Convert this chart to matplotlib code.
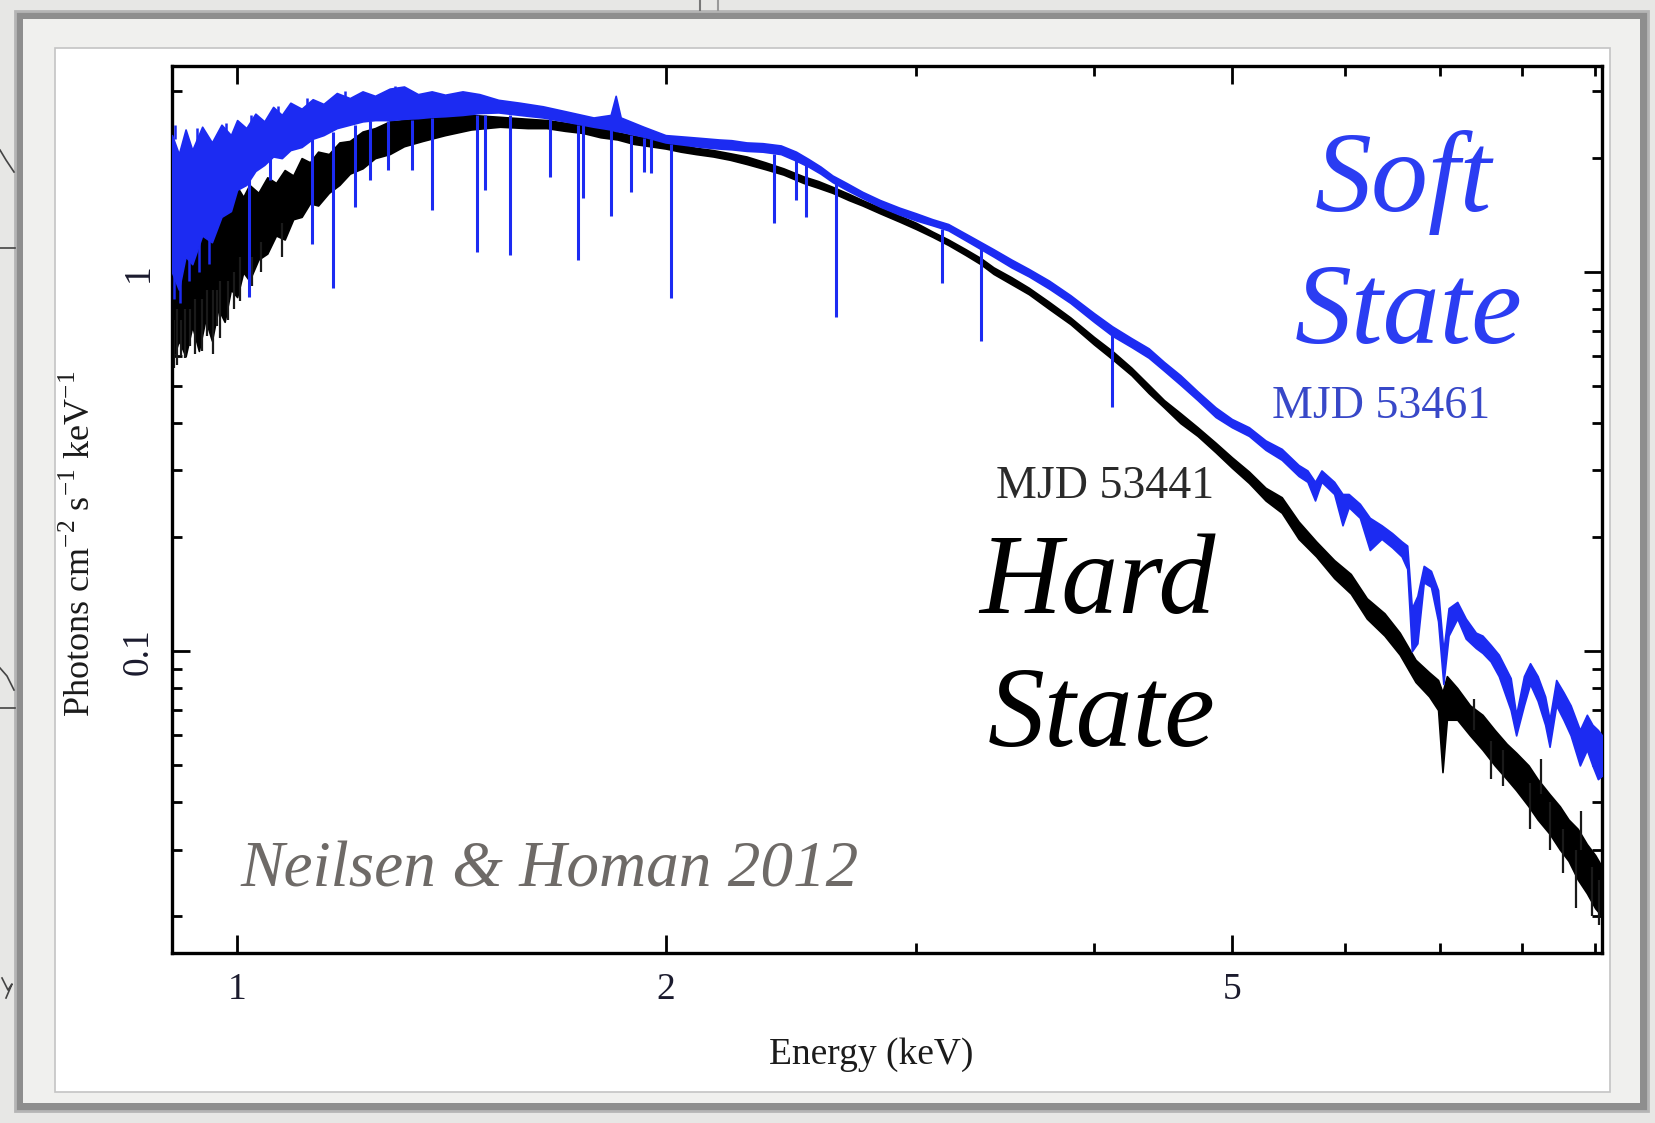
import matplotlib.pyplot as plt
from matplotlib.patches import Rectangle
from matplotlib.lines import Line2D

W, H = 1655, 1123

# Hard state (MJD 53441): noise envelope of the spectrum, keV vs photons/cm2/s/keV
hard_E = [0.900, 0.910, 0.920, 0.930, 0.940, 0.950, 0.960, 0.970, 0.980, 0.990,
          1.000, 1.010, 1.020, 1.035, 1.050, 1.065, 1.080, 1.095, 1.110, 1.125,
          1.140, 1.160, 1.180, 1.200, 1.225, 1.250, 1.280, 1.310, 1.350, 1.400,
          1.460, 1.530, 1.600, 1.650, 1.700, 1.750, 1.800, 1.850, 1.900, 1.950,
          2.000, 2.050, 2.100, 2.160, 2.220, 2.280, 2.350, 2.420, 2.500, 2.560,
          2.620, 2.690, 2.750, 2.830, 2.920, 3.000, 3.080, 3.160, 3.250, 3.330,
          3.400, 3.500, 3.600, 3.720, 3.850, 4.000, 4.120, 4.250, 4.370, 4.480,
          4.600, 4.730, 4.870, 5.000, 5.140, 5.280, 5.420, 5.570, 5.730, 5.900,
          6.060, 6.220, 6.400, 6.560, 6.730, 6.880, 6.980, 7.030, 7.080, 7.200,
          7.350, 7.500, 7.650, 7.800, 7.920, 8.080, 8.200, 8.360, 8.500, 8.620,
          8.750, 8.880, 9.000, 9.100]
hard_hi = [1.40, 1.25, 1.50, 1.30, 1.55, 1.38, 1.60, 1.45, 1.62, 1.50,
           1.68, 1.58, 1.70, 1.62, 1.78, 1.72, 1.86, 1.80, 2.00, 1.95,
           2.08, 2.05, 2.20, 2.22, 2.35, 2.40, 2.50, 2.52, 2.56, 2.60,
           2.60, 2.57, 2.54, 2.52, 2.48, 2.44, 2.40, 2.34, 2.29, 2.25,
           2.20, 2.17, 2.13, 2.10, 2.06, 2.02, 1.95, 1.88, 1.79, 1.74,
           1.68, 1.61, 1.55, 1.48, 1.41, 1.35, 1.28, 1.22, 1.15, 1.09,
           1.03, 0.97, 0.91, 0.835, 0.76, 0.675, 0.62, 0.56, 0.505, 0.46,
           0.425, 0.39, 0.355, 0.325, 0.298, 0.270, 0.255, 0.220, 0.195, 0.174,
           0.160, 0.138, 0.126, 0.112, 0.095, 0.088, 0.084, 0.078, 0.086, 0.080,
           0.072, 0.068, 0.062, 0.057, 0.054, 0.050, 0.046, 0.042, 0.039, 0.036,
           0.034, 0.031, 0.029, 0.027]
hard_lo = [0.58, 0.66, 0.60, 0.72, 0.62, 0.75, 0.66, 0.80, 0.74, 0.90,
           0.86, 1.00, 0.95, 1.08, 1.12, 1.25, 1.22, 1.38, 1.40, 1.52,
           1.50, 1.62, 1.70, 1.82, 1.88, 2.00, 2.05, 2.15, 2.22, 2.30,
           2.38, 2.42, 2.40, 2.40, 2.36, 2.33, 2.27, 2.24, 2.18, 2.15,
           2.12, 2.08, 2.05, 2.02, 1.98, 1.93, 1.87, 1.81, 1.72, 1.67,
           1.62, 1.55, 1.50, 1.43, 1.36, 1.30, 1.24, 1.18, 1.11, 1.05,
           0.99, 0.93, 0.875, 0.80, 0.73, 0.645, 0.59, 0.535, 0.48, 0.44,
           0.40, 0.37, 0.335, 0.305, 0.278, 0.250, 0.232, 0.198, 0.178, 0.156,
           0.142, 0.122, 0.110, 0.098, 0.083, 0.076, 0.070, 0.048, 0.066, 0.066,
           0.060, 0.055, 0.050, 0.046, 0.043, 0.039, 0.036, 0.033, 0.030, 0.028,
           0.025, 0.023, 0.021, 0.020]
# single-channel noise spikes of the hard spectrum
hard_spike_E = [0.903, 0.907, 0.913, 0.919, 0.926, 0.934, 0.944, 0.952, 0.962, 0.968,
                0.973, 0.985, 0.995, 1.005, 1.025, 1.040, 1.075,
                7.40, 7.60, 7.75, 8.10, 8.25, 8.36, 8.55, 8.72, 8.80, 8.95, 9.05]
hard_spike_bottom = [0.56, 0.57, 0.60, 0.595, 0.64, 0.61, 0.62, 0.68, 0.61, 0.72,
                     0.67, 0.75, 0.80, 0.84, 0.92, 1.00, 1.10,
                     0.062, 0.046, 0.044, 0.034, 0.042, 0.030, 0.026, 0.021, 0.030, 0.020, 0.019]
hard_spike_top = [0.75, 0.80, 0.75, 0.80, 0.80, 0.85, 0.85, 0.90, 0.90, 0.90,
                  0.95, 0.95, 1.00, 1.10, 1.10, 1.20, 1.35,
                  0.075, 0.058, 0.055, 0.045, 0.052, 0.040, 0.034, 0.030, 0.038, 0.027, 0.025]

# Soft state (MJD 53461)
soft_E = [0.900, 0.910, 0.920, 0.930, 0.945, 0.960, 0.975, 0.990, 1.000, 1.015,
          1.030, 1.045, 1.060, 1.075, 1.090, 1.110, 1.130, 1.150, 1.175, 1.200,
          1.225, 1.250, 1.280, 1.310, 1.340, 1.370, 1.400, 1.440, 1.480, 1.526,
          1.580, 1.640, 1.700, 1.780, 1.830, 1.845, 1.860, 1.930, 2.000, 2.060,
          2.120, 2.180, 2.225, 2.280, 2.340, 2.410, 2.470, 2.520, 2.570, 2.620,
          2.680, 2.750, 2.830, 2.920, 3.000, 3.080, 3.160, 3.280, 3.400, 3.500,
          3.600, 3.720, 3.850, 4.000, 4.120, 4.250, 4.370, 4.480, 4.600, 4.730,
          4.870, 5.000, 5.140, 5.280, 5.420, 5.570, 5.650, 5.720, 5.780, 5.900,
          5.980, 6.040, 6.150, 6.250, 6.370, 6.480, 6.580, 6.640, 6.690, 6.750,
          6.820, 6.900, 6.980, 7.040, 7.100, 7.200, 7.300, 7.420, 7.500, 7.600,
          7.700, 7.850, 7.920, 8.020, 8.100, 8.200, 8.300, 8.360, 8.450, 8.550,
          8.650, 8.780, 8.880, 8.960, 9.040, 9.100]
soft_hi = [2.30, 2.05, 2.38, 2.10, 2.42, 2.20, 2.45, 2.30, 2.52, 2.40,
           2.62, 2.50, 2.73, 2.60, 2.80, 2.70, 2.86, 2.78, 2.97, 2.88,
           3.00, 2.92, 3.05, 3.09, 2.95, 3.00, 2.94, 3.00, 2.95, 2.85,
           2.80, 2.74, 2.66, 2.56, 2.60, 2.92, 2.56, 2.42, 2.30, 2.28,
           2.26, 2.24, 2.23, 2.20, 2.19, 2.16, 2.08, 1.99, 1.90, 1.80,
           1.72, 1.63, 1.55, 1.48, 1.43, 1.38, 1.34, 1.24, 1.15, 1.08,
           1.02, 0.95, 0.87, 0.78, 0.72, 0.67, 0.63, 0.58, 0.535, 0.485,
           0.44, 0.41, 0.39, 0.36, 0.342, 0.31, 0.30, 0.28, 0.30, 0.28,
           0.26, 0.26, 0.245, 0.225, 0.215, 0.205, 0.195, 0.19, 0.13, 0.14,
           0.168, 0.163, 0.145, 0.10, 0.13, 0.135, 0.122, 0.112, 0.110, 0.104,
           0.098, 0.085, 0.068, 0.086, 0.093, 0.086, 0.076, 0.066, 0.084, 0.078,
           0.072, 0.062, 0.068, 0.064, 0.062, 0.060]
soft_lo = [1.00, 0.90, 1.10, 1.05, 1.25, 1.20, 1.40, 1.45, 1.65, 1.70,
           1.85, 1.92, 2.02, 2.00, 2.10, 2.14, 2.25, 2.30, 2.40, 2.45,
           2.50, 2.52, 2.52, 2.54, 2.55, 2.57, 2.58, 2.60, 2.63, 2.64,
           2.60, 2.56, 2.50, 2.42, 2.38, 2.36, 2.35, 2.28, 2.20, 2.17,
           2.14, 2.12, 2.11, 2.09, 2.08, 2.05, 1.97, 1.90, 1.82, 1.73,
           1.65, 1.57, 1.49, 1.42, 1.37, 1.33, 1.29, 1.19, 1.10, 1.03,
           0.975, 0.905, 0.83, 0.74, 0.68, 0.635, 0.595, 0.55, 0.505, 0.46,
           0.415, 0.39, 0.37, 0.34, 0.32, 0.29, 0.28, 0.25, 0.28, 0.26,
           0.215, 0.24, 0.225, 0.185, 0.198, 0.188, 0.178, 0.165, 0.10, 0.105,
           0.152, 0.148, 0.12, 0.082, 0.11, 0.122, 0.108, 0.102, 0.099, 0.094,
           0.086, 0.070, 0.060, 0.072, 0.082, 0.074, 0.064, 0.056, 0.072, 0.066,
           0.060, 0.050, 0.055, 0.050, 0.046, 0.047]
# narrow absorption lines of the soft spectrum
soft_line_E = [1.020, 1.055, 1.129, 1.168, 1.210, 1.240, 1.277, 1.328, 1.371, 1.475,
               1.494, 1.556, 1.660, 1.735, 1.750, 1.830, 1.890, 1.930, 1.955, 2.017,
               2.385, 2.470, 2.510, 2.634, 3.130, 3.330, 4.120]
soft_line_bottom = [0.86, 1.75, 1.19, 0.91, 1.49, 1.75, 1.86, 1.86, 1.46, 1.13,
                    1.65, 1.11, 1.78, 1.08, 1.57, 1.41, 1.63, 1.84, 1.83, 0.853,
                    1.35, 1.55, 1.40, 0.76, 0.935, 0.66, 0.44]
soft_line_top = [1.85, 2.20, 2.25, 2.35, 2.45, 2.50, 2.50, 2.52, 2.55, 2.60,
                 2.60, 2.60, 2.55, 2.45, 2.45, 2.38, 2.30, 2.26, 2.25, 2.18,
                 2.05, 2.00, 1.95, 1.72, 1.30, 1.16, 0.70]
# noise spikes of the soft spectrum below 1.3 keV
soft_spike_E = [0.903, 0.905, 0.912, 0.925, 0.937, 0.940, 0.955, 0.982, 1.022, 1.068,
                1.120, 1.190, 1.290]
soft_spike_bottom = [0.85, 2.25, 0.83, 0.95, 2.10, 1.00, 1.05, 2.25, 2.40, 2.55,
                     2.65, 2.80, 2.90]
soft_spike_top = [1.20, 2.45, 1.10, 1.20, 2.40, 1.30, 1.30, 2.48, 2.60, 2.75,
                  2.88, 3.00, 3.10]

x_major = [1, 2, 5]
x_major_labels = ['1', '2', '5']
x_minor = [3, 4, 6, 7, 8, 9]
y_major = [0.1, 1]
y_major_labels = ['0.1', '1']
y_minor = [0.02, 0.03, 0.04, 0.05, 0.06, 0.07, 0.08, 0.09,
           0.2, 0.3, 0.4, 0.5, 0.6, 0.7, 0.8, 0.9, 2, 3]

BLUE = '#1c2bf2'
SERIF = 'Liberation Serif'
plt.rcParams['mathtext.fontset'] = 'custom'
plt.rcParams['mathtext.rm'] = SERIF


def fx(px):
    return px / W


def fy(py):
    return 1 - py / H


def frame_rect(x0, y0, x1, y1, **kw):
    return Rectangle((fx(x0), fy(y1)), fx(x1) - fx(x0), fy(y0) - fy(y1),
                     transform=fig.transFigure, **kw)


fig = plt.figure(figsize=(W / 100, H / 100), dpi=100)
fig.patch.set_facecolor('#e7e7e5')

# slide frame around the figure
fig.add_artist(frame_rect(15, 11, 1648, 1111, facecolor='#8e8e8e', edgecolor='#b5b5b5', lw=2, zorder=0))
fig.add_artist(frame_rect(23, 19, 1640, 1103, facecolor='#f0f0ee', edgecolor='none', zorder=0))
fig.add_artist(frame_rect(55, 48, 1610, 1092, facecolor='white', edgecolor='#c4c4c4', lw=1.2, zorder=0))

# bits of the slide behind, at the left edge
for xs, ys in [([0, 6, 14], [150, 160, 172]), ([0, 15], [248, 248]),
               ([0, 7, 14], [668, 676, 690]), ([0, 15], [708, 708]),
               ([2, 8, 12, 6], [978, 990, 984, 998])]:
    fig.add_artist(Line2D([fx(v) for v in xs], [fy(v) for v in ys], color='#444444', lw=1.2))
fig.add_artist(Line2D([fx(700), fx(700)], [fy(0), fy(10)], color='#777777', lw=1.5))
fig.add_artist(Line2D([fx(718), fx(718)], [fy(0), fy(10)], color='#999999', lw=1.5))

ax = fig.add_axes([fx(172), fy(953), fx(1602) - fx(172), fy(66) - fy(953)])
ax.set_xscale('log')
ax.set_yscale('log')

ax.fill_between(hard_E, hard_lo, hard_hi, color='black', lw=1.2, zorder=2)
ax.vlines(hard_spike_E, hard_spike_bottom, hard_spike_top, color='#1a1a1a', lw=1.6, zorder=2)
ax.fill_between(soft_E, soft_lo, soft_hi, color=BLUE, lw=1.2, zorder=3)
ax.vlines(soft_line_E, soft_line_bottom, soft_line_top, color=BLUE, lw=2.2, zorder=3)
ax.vlines(soft_spike_E, soft_spike_bottom, soft_spike_top, color=BLUE, lw=1.8, zorder=3)

ax.set_xlim(0.9, 9.1)
ax.set_ylim(0.016, 3.5)

ax.set_xticks(x_major)
ax.set_xticklabels(x_major_labels)
ax.set_xticks(x_minor, minor=True)
ax.set_xticklabels([], minor=True)
ax.set_yticks(y_major)
ax.set_yticklabels(y_major_labels, rotation=90, va='center')
ax.set_yticks(y_minor, minor=True)
ax.set_yticklabels([], minor=True)

ax.tick_params(which='both', direction='in', top=True, right=True, width=2,
               labelsize=27, labelcolor='#1b1b2e')
ax.tick_params(which='major', length=13)
ax.tick_params(which='minor', length=7)
ax.tick_params(axis='x', pad=14)
ax.tick_params(axis='y', pad=12)
for lab in ax.get_xticklabels() + ax.get_yticklabels():
    lab.set_fontfamily(SERIF)
for sp in ax.spines.values():
    sp.set_linewidth(2.4)

ax.set_xlabel('Energy (keV)', fontsize=27, family=SERIF, color='#1b1b1b')
ax.xaxis.set_label_coords(0.489, -0.095)
ax.set_ylabel(r'Photons cm$^{-2}$ s$^{-1}$ keV$^{-1}$', fontsize=26, family=SERIF, color='#1b1b1b')
ax.yaxis.set_label_coords(-0.052, 0.461)

# state annotations
ax.text(6.6, 1.45, 'Soft', fontsize=82, style='italic', family=SERIF, color='#2b3df2',
        ha='center', va='baseline', zorder=5)
ax.text(6.65, 0.649, 'State', fontsize=82, style='italic', family=SERIF, color='#2b3df2',
        ha='center', va='baseline', zorder=5)
ax.text(6.37, 0.442, 'MJD 53461', fontsize=33, family=SERIF, color='#3848c8',
        ha='center', va='center', zorder=5)
ax.text(4.07, 0.272, 'MJD 53441', fontsize=33, family=SERIF, color='#2a2a2a',
        ha='center', va='center', zorder=5)
ax.text(4.02, 0.126, 'Hard', fontsize=82, style='italic', family=SERIF, color='black',
        ha='center', va='baseline', zorder=5)
ax.text(4.05, 0.0564, 'State', fontsize=82, style='italic', family=SERIF, color='black',
        ha='center', va='baseline', zorder=5)
ax.text(1.006, 0.0239, 'Neilsen & Homan 2012', fontsize=47, style='italic', family=SERIF,
        color='#6e6a67', ha='left', va='baseline', zorder=5)

fig.savefig('out.png', dpi=100, facecolor=fig.get_facecolor())
